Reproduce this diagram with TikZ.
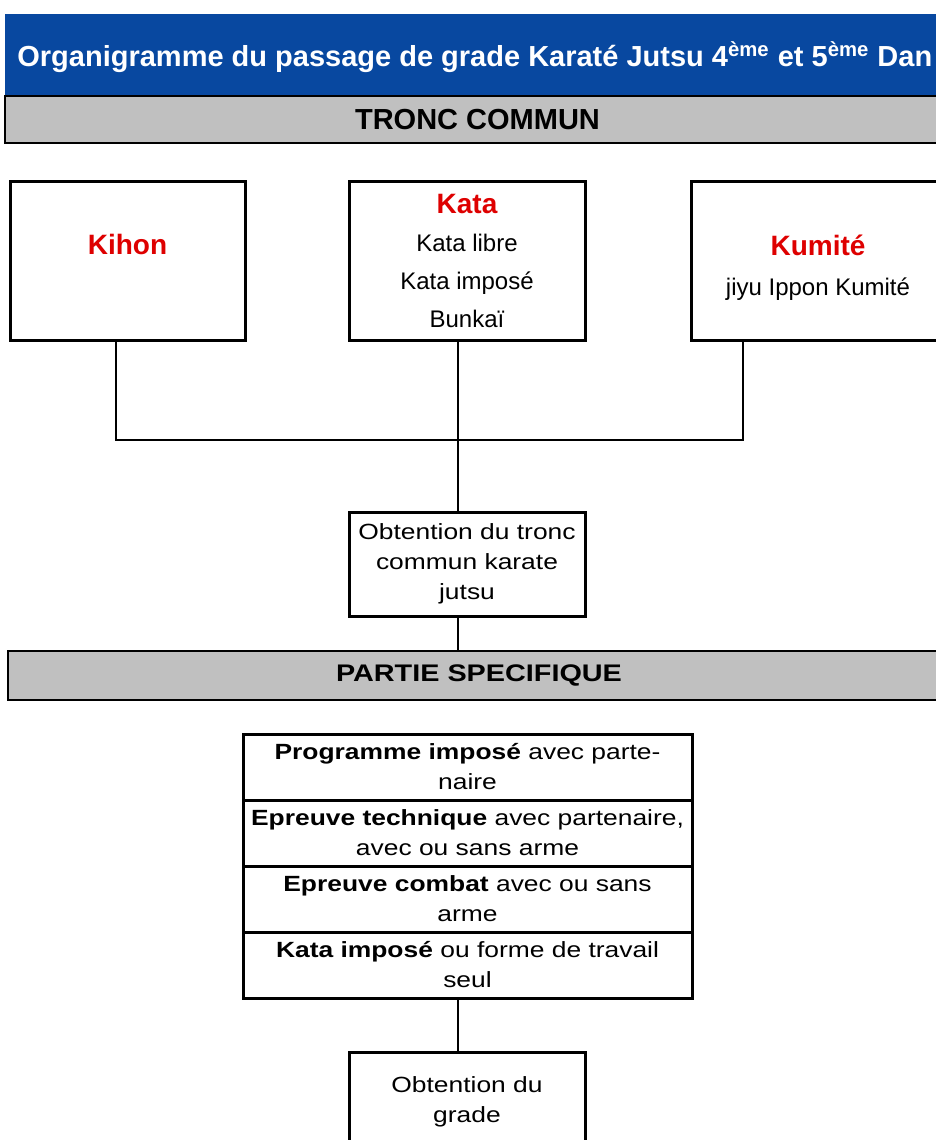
\documentclass[tikz,border=0pt]{standalone}
\usepackage{fontspec}
\setmainfont{Liberation Sans}
\newfontfamily\largefont{Liberation Sans}[FakeStretch=1.2]
\usetikzlibrary{positioning}
\definecolor{bleutitre}{RGB}{8,72,160}
\definecolor{rougetitre}{RGB}{222,0,0}
\definecolor{grisbandeau}{RGB}{192,192,192}

\begin{document}
\begin{tikzpicture}[x=0.5pt,y=-0.5pt,
  bandeau/.style={draw,fill=grisbandeau,line width=1.4pt,anchor=north west,inner sep=0pt,outer sep=0pt},
  boite/.style={draw,line width=1.5pt,anchor=north west,inner sep=0pt,outer sep=0pt,align=center},
  rangee/.style={draw,line width=1.5pt,inner sep=0pt,outer sep=0pt,minimum width=224.5pt,minimum height=33pt,text width=222pt,align=center,font=\largefont\fontsize{11}{15}\selectfont},
  ligne/.style={line width=1.2pt}]
\useasboundingbox (0,0) rectangle (936,1140);
\clip (0,0) rectangle (936,1140);

% en-tete
\node[fill=bleutitre,anchor=north west,inner sep=0pt,minimum width=475pt,minimum height=41pt](entete) at (5,14){};
\node[anchor=west,text=white,inner sep=0pt,font=\bfseries\fontsize{14.5}{17}\selectfont](titre) at (17,57)
  {Organigramme du passage de grade Karaté Jutsu 4\textsuperscript{ème} et 5\textsuperscript{ème} Dan};
\node[bandeau,minimum width=472.5pt,minimum height=23.5pt,font=\bfseries\fontsize{14.5}{17}\selectfont](tronc) at (5,96){TRONC COMMUN};

% epreuves du tronc commun
\node[boite,minimum width=117.5pt,minimum height=79.5pt,text depth=16pt,font=\bfseries\fontsize{14}{19}\selectfont,text=rougetitre](kihon) at (10,181)
  {Kihon};
\node[boite,minimum width=118pt,minimum height=79.5pt,font=\fontsize{12}{19}\selectfont](kata) at (349,181)
  {{\bfseries\color{rougetitre}\fontsize{14}{19}\selectfont Kata}\\ Kata libre\\ Kata imposé\\ Bunkaï};
\node[boite,minimum width=127pt,minimum height=79.5pt,text height=37pt,font=\fontsize{12}{20}\selectfont](kumite) at (691,181)
  {{\bfseries\color{rougetitre}\fontsize{14}{20}\selectfont Kumité}\\ jiyu Ippon Kumité};

\node[boite,minimum width=118pt,minimum height=52pt,font=\largefont\fontsize{11}{15}\selectfont](obtronc) at (349,512)
  {Obtention du tronc\\ commun karate\\ jutsu};

\draw[ligne] ([xshift=53pt]kihon.south west) -- ++(0,100) -| ([xshift=26pt]kumite.south west);
\draw[ligne] ([xshift=54.5pt]kata.south west) -- ([xshift=54.5pt]obtronc.north west);

% partie specifique
\node[bandeau,minimum width=471pt,minimum height=24.5pt,font=\largefont\bfseries\fontsize{12}{15}\selectfont](specifique) at (8,651){PARTIE SPECIFIQUE};
\draw[ligne] ([xshift=54.5pt]obtronc.south west) -- ++(0,35);

\node[rangee,anchor=north west](prog) at (243,734){\textbf{Programme imposé} avec parte-\\naire};
\node[rangee,below=0pt of prog](tech){\textbf{Epreuve technique} avec partenaire,\\avec ou sans arme};
\node[rangee,below=0pt of tech](combat){\textbf{Epreuve combat} avec ou sans\\arme};
\node[rangee,below=0pt of combat](katasp){\textbf{Kata imposé} ou forme de travail\\seul};

\node[boite,minimum width=118pt,minimum height=60pt,font=\largefont\fontsize{11}{15}\selectfont,text depth=12pt](grade) at (349,1052)
  {Obtention du\\ grade};
\draw[ligne] ([xshift=107.5pt]katasp.south west) -- ([xshift=54.5pt]grade.north west);
\end{tikzpicture}
\end{document}
